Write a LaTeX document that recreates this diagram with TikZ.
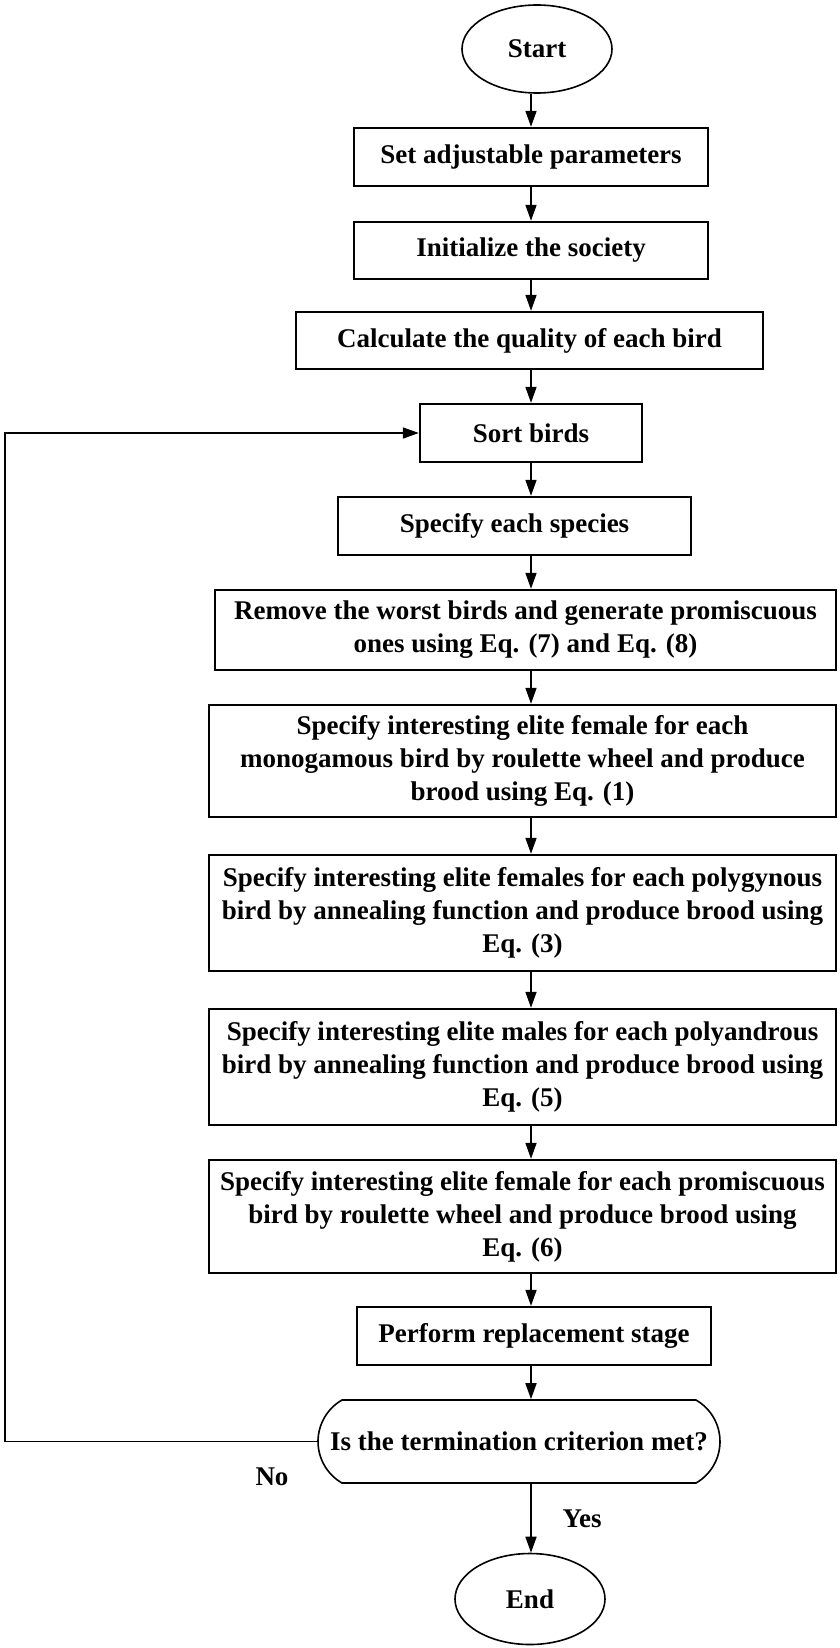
\documentclass[tikz,border=0pt]{standalone}
\usepackage{fontspec}
\setmainfont{Liberation Serif}
\usetikzlibrary{arrows.meta, shapes.geometric, shapes.misc}

\begin{document}
\begin{tikzpicture}[x=1pt, y=-1pt,
    txt/.style={font=\fontsize{27}{33}\selectfont\bfseries, align=center, inner sep=0pt},
    stepbox/.style={txt, draw, line width=2.4pt, rectangle},
    term/.style={txt, draw, line width=1.6pt, ellipse, minimum width=150pt},
    flow/.style={line width=1.7pt, -{Triangle[length=16pt, width=11pt]}}]

    \useasboundingbox (0,0) rectangle (840,1648);

    %% Flowchart of the bird mating steps

    % Start and end
    \node[term, minimum height=88pt] (start) at (537,49) {Start};
    \node[term, minimum height=91pt] (finish) at (530,1599) {End};

    % Steps
    \node[stepbox, minimum width=354pt, minimum height=58pt] (set) at (531,157) {Set adjustable parameters};
    \node[stepbox, minimum width=354pt, minimum height=57pt] (init) at (531,250.5) {Initialize the society};
    \node[stepbox, minimum width=467pt, minimum height=57pt] (quality) at (529.5,340.5) {Calculate the quality of each bird};
    \node[stepbox, minimum width=222pt, minimum height=58pt] (sort) at (531,433) {Sort birds};
    \node[stepbox, minimum width=353pt, minimum height=58pt] (species) at (514.5,526) {Specify each species};
    \node[stepbox, minimum width=621pt, minimum height=80pt] (remove) at (525.5,630)
        {Remove the worst birds and generate promiscuous\\ones using Eq. (7) and Eq. (8)};
    \node[stepbox, minimum width=627pt, minimum height=112pt] (mono) at (522.5,761)
        {Specify interesting elite female for each\\monogamous bird by roulette wheel and produce\\brood using Eq. (1)};
    \node[stepbox, minimum width=627pt, minimum height=116pt] (polyg) at (522.5,913)
        {Specify interesting elite females for each polygynous\\bird by annealing function and produce brood using\\Eq. (3)};
    \node[stepbox, minimum width=627pt, minimum height=116pt] (polya) at (522.5,1067)
        {Specify interesting elite males for each polyandrous\\bird by annealing function and produce brood using\\Eq. (5)};
    \node[stepbox, minimum width=627pt, minimum height=113pt] (prom) at (522.5,1216.5)
        {Specify interesting elite female for each promiscuous\\bird by roulette wheel and produce brood using\\Eq. (6)};
    \node[stepbox, minimum width=354pt, minimum height=58pt] (replace) at (534,1336) {Perform replacement stage};

    % Decision
    \node[txt, draw, line width=1.6pt, rounded rectangle, rounded rectangle arc length=120,
        minimum width=402pt, minimum height=83pt] (check) at (519,1441.5) {Is the termination criterion met?};
    \node[txt] (no) at (272,1477) {No};
    \node[txt] (yes) at (582,1519) {Yes};

    % Arrows
    \coordinate (spine) at (531,0);
    \coordinate (back) at (5,0);
    \draw[flow] (start.south -| spine) -- (set.north -| spine);
    \draw[flow] (set.south -| spine) -- (init.north -| spine);
    \draw[flow] (init.south -| spine) -- (quality.north -| spine);
    \draw[flow] (quality.south -| spine) -- (sort.north -| spine);
    \draw[flow] (sort.south -| spine) -- (species.north -| spine);
    \draw[flow] (species.south -| spine) -- (remove.north -| spine);
    \draw[flow] (remove.south -| spine) -- (mono.north -| spine);
    \draw[flow] (mono.south -| spine) -- (polyg.north -| spine);
    \draw[flow] (polyg.south -| spine) -- (polya.north -| spine);
    \draw[flow] (polya.south -| spine) -- (prom.north -| spine);
    \draw[flow] (prom.south -| spine) -- (replace.north -| spine);
    \draw[flow] (replace.south -| spine) -- (check.north -| spine);
    \draw[flow] (check.south -| spine) -- (finish.north -| spine);

    % Loop back when not met
    \draw[flow] (check.west) -- (check.west -| back) |- (sort.west);

\end{tikzpicture}
\end{document}
